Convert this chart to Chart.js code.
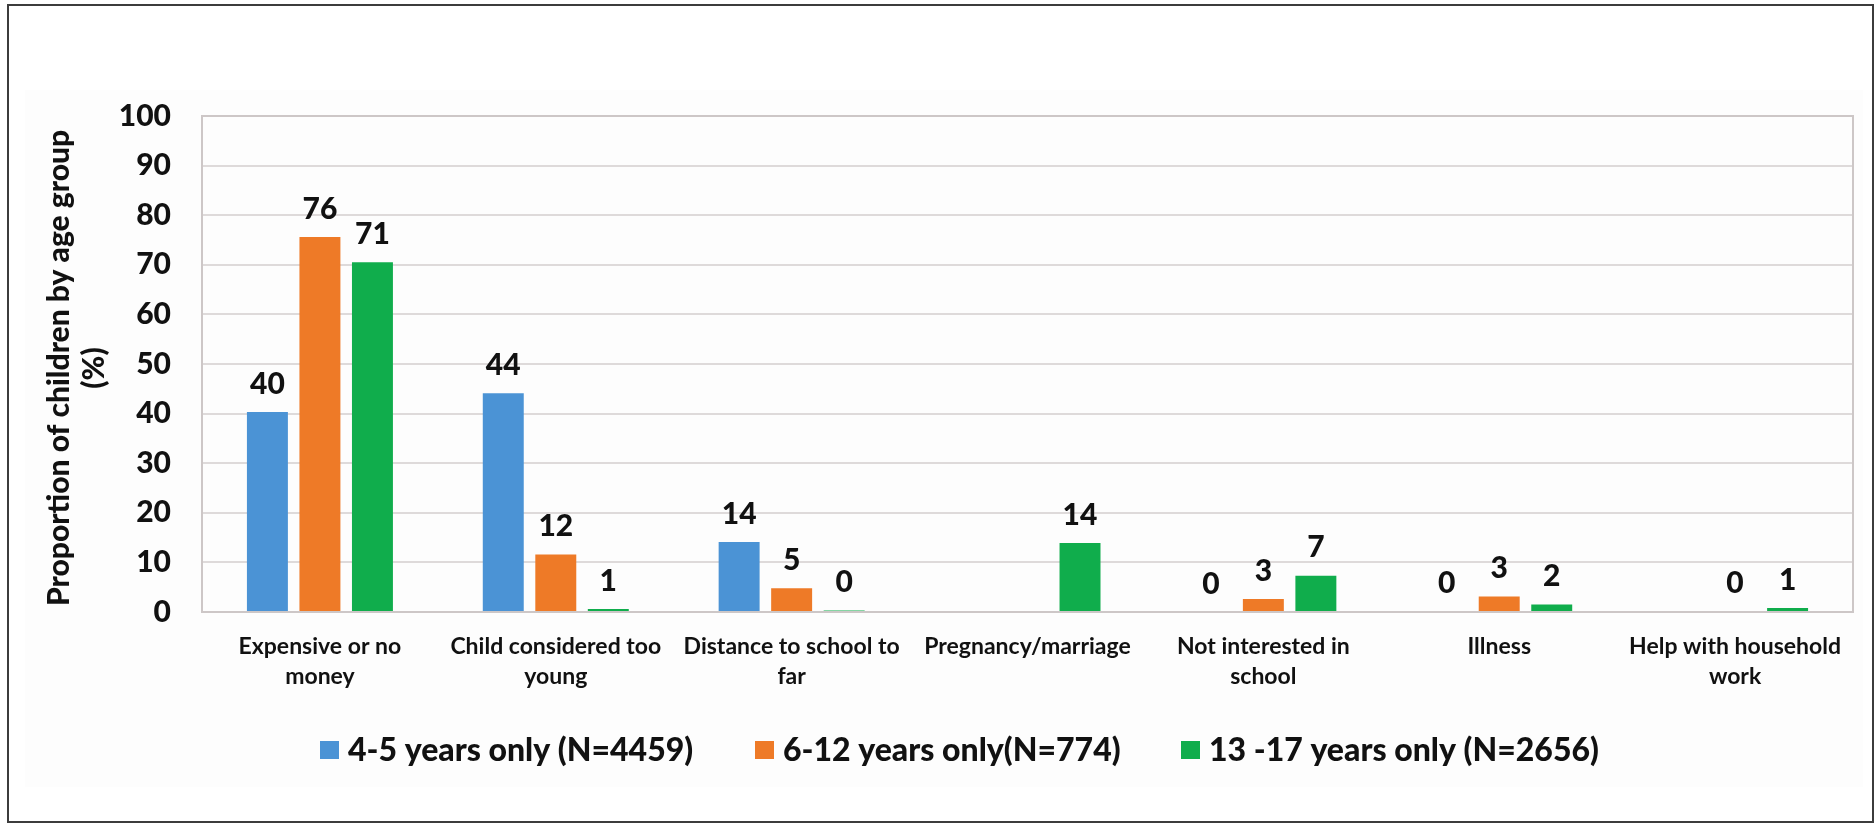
<!DOCTYPE html>
<html>
<head>
<meta charset="utf-8">
<script src="https://cdn.jsdelivr.net/npm/chart.js@4.4.1/dist/chart.umd.min.js"></script>
<style>
  html, body { margin: 0; padding: 0; background: #ffffff; }
  #wrap { width: 1876px; height: 825px; position: relative; }
</style>
</head>
<body>
<div id="wrap"><canvas id="chart" width="1876" height="825"></canvas></div>
<script>
// Reasons for not attending school, by age group (%)
const categories = [
  ['Expensive or no', 'money'],
  ['Child considered too', 'young'],
  ['Distance to school to', 'far'],
  ['Pregnancy/marriage'],
  ['Not interested in', 'school'],
  ['Illness'],
  ['Help with household', 'work']
];
const seriesNames = ['4-5 years only (N=4459)', '6-12 years only(N=774)', '13 -17 years only (N=2656)'];
const age4to5   = [40.3, 44.1, 14.1, null, 0,   0.2, null];
const age6to12  = [75.6, 11.6, 4.8,  null, 2.6, 3.1, 0.2];
const age13to17 = [70.5, 0.6,  0.3,  13.9, 7.3, 1.5, 0.8];
const yTicks = [0, 10, 20, 30, 40, 50, 60, 70, 80, 90, 100];
const yTitle = ['Proportion of children by age group', '(%)'];

const seriesColors = ['#4b93d5', '#ee7a27', '#10ad4c'];
const FONT = 'Lato, "Open Sans", sans-serif';
const TEXT = '#111111';

// page background, faint panel tint and outer frame
const framePlugin = {
  id: 'frame',
  beforeDraw(chart) {
    const ctx = chart.ctx;
    ctx.save();
    ctx.fillStyle = '#ffffff';
    ctx.fillRect(0, 0, chart.width, chart.height);
    ctx.fillStyle = '#fdfdfd';
    ctx.fillRect(25, 90, 1838, 697);
    ctx.strokeStyle = '#3c3c3c';
    ctx.lineWidth = 2;
    ctx.strokeRect(8, 5, 1865, 817);
    ctx.restore();
  }
};

// box around the plotting area
const plotBorder = {
  id: 'plotBorder',
  beforeDatasetsDraw(chart) {
    const {ctx, chartArea: a} = chart;
    ctx.save();
    ctx.strokeStyle = '#cdc7c7';
    ctx.lineWidth = 2;
    ctx.strokeRect(a.left, a.top, a.right - a.left, a.bottom - a.top);
    ctx.restore();
  }
};

// rounded value above every bar
const valueLabels = {
  id: 'valueLabels',
  afterDatasetsDraw(chart) {
    const ctx = chart.ctx;
    ctx.save();
    ctx.font = '900 30px ' + FONT;
    ctx.fillStyle = TEXT;
    ctx.textAlign = 'center';
    ctx.textBaseline = 'middle';
    chart.data.datasets.forEach((ds, i) => {
      chart.getDatasetMeta(i).data.forEach((bar, j) => {
        const v = ds.data[j];
        if (v === null || v === undefined) return;
        ctx.fillText(String(Math.round(v)), bar.x, bar.y - 28);
      });
    });
    ctx.restore();
  }
};

// two-line rotated y-axis title
const yTitlePlugin = {
  id: 'yTitle',
  afterDraw(chart) {
    const ctx = chart.ctx;
    const xs = [59, 94];
    ctx.save();
    ctx.font = '900 30px ' + FONT;
    ctx.fillStyle = TEXT;
    ctx.textAlign = 'center';
    ctx.textBaseline = 'middle';
    yTitle.forEach((line, i) => {
      ctx.save();
      ctx.translate(xs[i], 368);
      ctx.rotate(-Math.PI / 2);
      ctx.fillText(line, 0, 0);
      ctx.restore();
    });
    ctx.restore();
  }
};

// legend row beneath the category labels
const legendRow = {
  id: 'legendRow',
  afterDraw(chart) {
    const ctx = chart.ctx;
    const starts = [320, 755, 1181];
    const cy = 750;
    ctx.save();
    ctx.font = '900 32px ' + FONT;
    ctx.textBaseline = 'middle';
    ctx.textAlign = 'left';
    chart.data.datasets.forEach((ds, i) => {
      const x = starts[i];
      ctx.fillStyle = ds.backgroundColor;
      ctx.fillRect(x, cy - 9, 19, 18);
      ctx.fillStyle = TEXT;
      ctx.fillText(ds.label, x + 28, cy + 1);
    });
    ctx.restore();
  }
};

function build() {
  const ctx = document.getElementById('chart').getContext('2d');
  new Chart(ctx, {
    type: 'bar',
    data: {
      labels: categories,
      datasets: [
        { label: seriesNames[0], data: age4to5,   backgroundColor: seriesColors[0] },
        { label: seriesNames[1], data: age6to12,  backgroundColor: seriesColors[1] },
        { label: seriesNames[2], data: age13to17, backgroundColor: seriesColors[2] }
      ]
    },
    options: {
      responsive: false,
      animation: false,
      devicePixelRatio: 1,
      layout: { padding: { top: 116, right: 23, left: 0, bottom: 0 } },
      datasets: { bar: { categoryPercentage: 0.668, barPercentage: 0.78 } },
      plugins: {
        legend: { display: false },
        tooltip: { enabled: false },
        title: { display: false }
      },
      scales: {
        x: {
          grid: { display: false, drawTicks: false },
          border: { display: true, color: '#cdc7c7', width: 2 },
          ticks: {
            color: TEXT,
            font: { family: FONT, size: 23, weight: 'bold', lineHeight: 1.32 },
            padding: 19,
            maxRotation: 0,
            autoSkip: false
          },
          afterFit(scale) { scale.height = 213; }
        },
        y: {
          min: 0,
          max: 100,
          afterBuildTicks(scale) { scale.ticks = yTicks.map(v => ({ value: v })); },
          grid: { color: '#dedada', lineWidth: 2, drawTicks: false },
          border: { display: false },
          ticks: {
            color: TEXT,
            font: { family: FONT, size: 30, weight: '900' },
            padding: 31
          },
          afterFit(scale) { scale.width = 202; }
        }
      }
    },
    plugins: [framePlugin, plotBorder, valueLabels, yTitlePlugin, legendRow]
  });
}

if (document.fonts && document.fonts.load) {
  Promise.all([
    document.fonts.load('900 30px Lato'),
    document.fonts.load('bold 27px Lato')
  ]).then(build, build);
} else {
  build();
}
</script>
</body>
</html>
